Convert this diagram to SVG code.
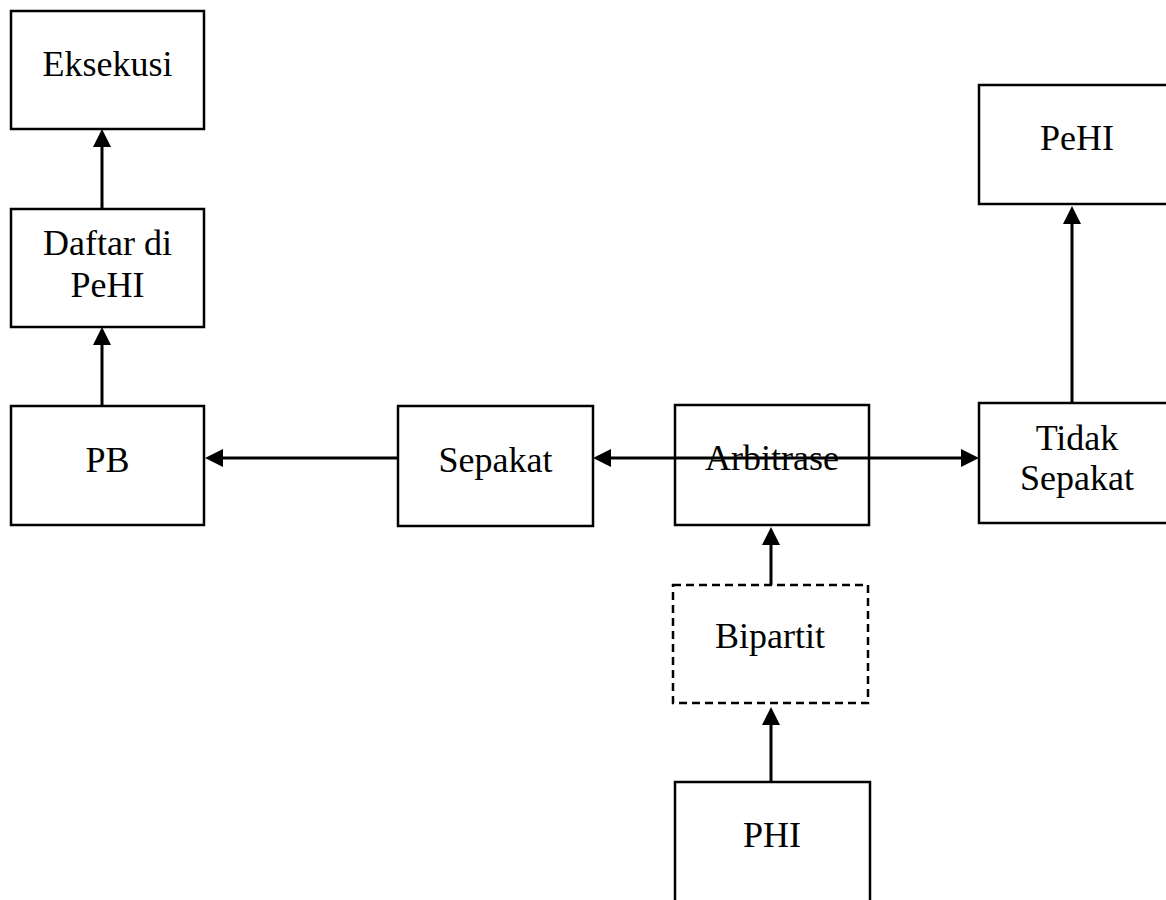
<svg xmlns="http://www.w3.org/2000/svg" width="1166" height="900" viewBox="0 0 1166 900">
<defs>
<style>
.box{fill:#fff;stroke:#000;stroke-width:2.5}
.dash{fill:#fff;stroke:#000;stroke-width:2.5;stroke-dasharray:8 5}
.lbl{font-family:"Liberation Serif","Times New Roman",serif;font-size:36px;fill:#000;text-anchor:middle}
.con{stroke:#000;stroke-width:3;fill:none}
</style>
<marker id="ah" viewBox="0 0 18 18" refX="14" refY="9" markerWidth="18" markerHeight="18" markerUnits="userSpaceOnUse" orient="auto-start-reverse">
<path d="M0,0 L18,9 L0,18 z" fill="#000"/>
</marker>
</defs>
<rect width="1166" height="900" fill="#fff"/>
<g id="eksekusi"><rect class="box" x="11" y="11" width="193" height="118"/><text class="lbl" x="107.5" y="76">Eksekusi</text></g>
<g id="daftar"><rect class="box" x="11" y="209" width="193" height="118"/><text class="lbl" x="107.5" y="255">Daftar di</text><text class="lbl" x="107.5" y="297">PeHI</text></g>
<g id="pb"><rect class="box" x="11" y="406" width="193" height="119"/><text class="lbl" x="107.5" y="472">PB</text></g>
<g id="sepakat"><rect class="box" x="398" y="406" width="195" height="120"/><text class="lbl" x="495.5" y="472">Sepakat</text></g>
<g id="arbitrase"><rect class="box" x="675" y="405" width="194" height="120"/></g>
<g id="tidak"><rect class="box" x="979" y="403" width="197" height="120"/><text class="lbl" x="1077" y="450">Tidak</text><text class="lbl" x="1077" y="490">Sepakat</text></g>
<g id="pehi"><rect class="box" x="979" y="85" width="197" height="119"/><text class="lbl" x="1077" y="150">PeHI</text></g>
<g id="bipartit"><rect class="dash" x="673" y="585" width="195" height="118"/><text class="lbl" x="770" y="648">Bipartit</text></g>
<g id="phi"><rect class="box" x="675" y="782" width="195" height="130"/><text class="lbl" x="772" y="847">PHI</text></g>
<g id="connectors">
<line class="con" x1="102" y1="209" x2="102" y2="133" marker-end="url(#ah)"/>
<line class="con" x1="102" y1="406" x2="102" y2="331" marker-end="url(#ah)"/>
<line class="con" x1="398" y1="458" x2="209" y2="458" marker-end="url(#ah)"/>
<line class="con" x1="597" y1="458" x2="975" y2="458" marker-start="url(#ah)" marker-end="url(#ah)"/>
<line class="con" x1="1072" y1="403" x2="1072" y2="210" marker-end="url(#ah)"/>
<line class="con" x1="771" y1="585" x2="771" y2="531" marker-end="url(#ah)"/>
<line class="con" x1="771" y1="782" x2="771" y2="711" marker-end="url(#ah)"/>
</g>
<g id="arbitrase-label"><text class="lbl" x="772" y="470">Arbitrase</text></g>
</svg>
